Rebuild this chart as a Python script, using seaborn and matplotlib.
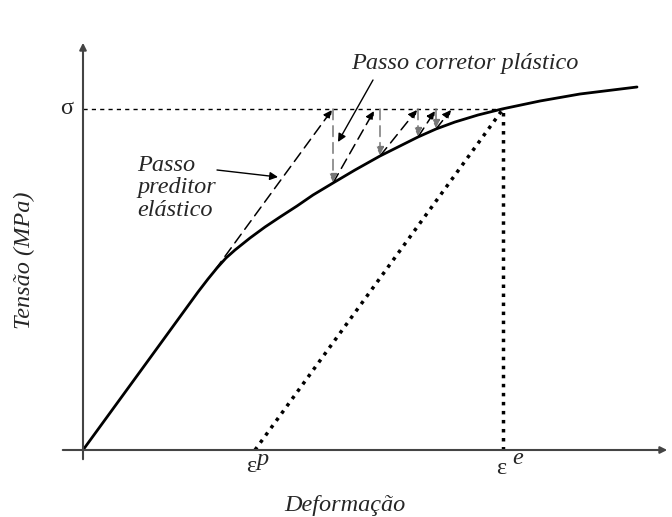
import matplotlib
matplotlib.use("Agg")
import matplotlib.pyplot as plt
import seaborn as sns
import pandas as pd

# ---- data (strain, stress in arbitrary units) ----
curve_strain = [0, 67, 115, 125, 134, 143, 152, 167, 182, 197, 214, 230, 250, 272, 297,
                317, 335, 353, 372, 395, 419, 457, 497, 554]
curve_stress = [0, 92, 158, 171, 182, 192, 200, 212, 223, 233, 244, 255, 267, 280, 294,
                304, 313, 321, 328, 335, 341, 349, 356, 363]

sigma_level = 341
eps_e = 420
eps_p = 172

# predictor steps (elastic): start -> end
pred_x0 = [132, 250, 297, 335, 353]
pred_y0 = [180, 267, 294, 313, 321]
pred_x1 = [249, 291, 334, 352, 368]
pred_y1 = [340, 339, 340, 339, 340]
# corrector steps (plastic return): from sigma line down to the curve
corr_x = [250, 297, 335, 353]
corr_y1 = [268, 295, 314, 322]

sns.set_style("white")
plt.rcParams['font.family'] = ['Liberation Serif', 'DejaVu Serif']

fig = plt.figure(figsize=(6.72, 5.17), dpi=100)
ax = fig.add_axes([0, 0, 1, 1])
ax.set_xlim(-83, 589)
ax.set_ylim(-67, 450)
ax.axis('off')

df = pd.DataFrame({"strain": curve_strain, "stress": curve_stress})
sns.lineplot(data=df, x="strain", y="stress", ax=ax, color="black", lw=2.0,
             sort=False, estimator=None)

# axes with arrows
axcol = "#444444"
ax.annotate("", xy=(589 - 2, 0), xytext=(-23, 0),
            arrowprops=dict(arrowstyle="-|>", color=axcol, lw=1.5, mutation_scale=10))
ax.annotate("", xy=(0, 410), xytext=(0, -12),
            arrowprops=dict(arrowstyle="-|>", color=axcol, lw=1.5, mutation_scale=10))

# sigma dotted line
ax.plot([0, eps_e], [sigma_level, sigma_level], color="black", lw=1.0,
        linestyle=(0, (3, 3)))
# unloading + vertical dotted lines
ax.plot([eps_p, eps_e], [0, sigma_level], color="black", lw=2.5, linestyle=(0, (1, 1.6)))
ax.plot([eps_e, eps_e], [0, sigma_level], color="black", lw=2.5, linestyle=(0, (1, 1.6)))

# predictor arrows
for x0, y0, x1, y1 in zip(pred_x0, pred_y0, pred_x1, pred_y1):
    ax.annotate("", xy=(x1, y1), xytext=(x0, y0),
                arrowprops=dict(arrowstyle="-|>", color="black", lw=1.1,
                                linestyle=(0, (7, 4)), mutation_scale=12,
                                shrinkA=0, shrinkB=0))
# corrector arrows
for x, y1 in zip(corr_x, corr_y1):
    ax.annotate("", xy=(x, y1), xytext=(x, sigma_level),
                arrowprops=dict(arrowstyle="-|>", color="#777777", lw=1.1,
                                linestyle=(0, (7, 4)), mutation_scale=12,
                                shrinkA=0, shrinkB=0))

# label arrows
ax.annotate("", xy=(195, 273), xytext=(134, 280),
            arrowprops=dict(arrowstyle="-|>", color="black", lw=1.0, mutation_scale=12,
                            shrinkA=0, shrinkB=0))
ax.annotate("", xy=(255, 308), xytext=(290, 370),
            arrowprops=dict(arrowstyle="-|>", color="black", lw=1.0, mutation_scale=12,
                            shrinkA=0, shrinkB=0))

fs = 17.5
ax.text(54, 262, "Passo\npreditor\nelástico", style="italic", fontsize=fs,
        ha="left", va="center", linespacing=1.1)
ax.text(382, 387, "Passo corretor plástico", style="italic", fontsize=fs,
        ha="center", va="center")
ax.text(-16, 342, "σ", fontsize=fs, ha="center", va="center")
ax.text(eps_p - 4, -17, "ε", fontsize=fs, ha="center", va="center")
ax.text(eps_p + 1, -9, "p", fontsize=fs, style="italic", ha="left", va="center")
ax.text(eps_e - 2, -18, "ε", fontsize=fs, ha="center", va="center")
ax.text(eps_e + 9, -9, "e", fontsize=fs, style="italic", ha="left", va="center")
ax.text(262, -55, "Deformação", style="italic", fontsize=fs, ha="center", va="center")
ax.text(-59, 190, "Tensão (MPa)", style="italic", fontsize=fs, ha="center",
        va="center", rotation=90)

fig.savefig("out.png", dpi=100)
